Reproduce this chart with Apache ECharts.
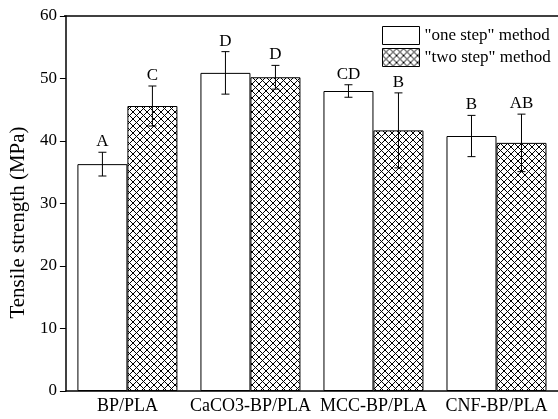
<!DOCTYPE html>
<html>
<head>
<meta charset="utf-8">
<script src="https://cdn.jsdelivr.net/npm/echarts@6/dist/echarts.min.js"></script>
<style>
  html, body { margin: 0; padding: 0; background: #fff; }
  #chart { width: 558px; height: 419px; }
</style>
</head>
<body>
<div id="chart"></div>
<script>
// data
var categories = ['BP/PLA', 'CaCO3-BP/PLA', 'MCC-BP/PLA', 'CNF-BP/PLA'];
var oneStep = [36.3, 50.9, 48.0, 40.8];
var oneStepErr = [1.9, 3.4, 1.0, 3.3];
var oneStepLetters = ['A', 'D', 'CD', 'B'];
var twoStep = [45.6, 50.2, 41.7, 39.7];
var twoStepErr = [3.2, 1.9, 6.0, 4.6];
var twoStepLetters = ['C', 'D', 'B', 'AB'];
var yTicks = [0, 10, 20, 30, 40, 50, 60];

var FONT = '"Liberation Serif", "DejaVu Serif", serif';

// crosshatch fill
function makeHatch(n) {
    var c = document.createElement('canvas');
    c.width = n; c.height = n;
    var ctx = c.getContext('2d');
    ctx.fillStyle = '#fff';
    ctx.fillRect(0, 0, n, n);
    ctx.strokeStyle = '#000';
    ctx.lineWidth = 1;
    ctx.beginPath();
    ctx.moveTo(0, 0); ctx.lineTo(n, n);
    ctx.moveTo(n, 0); ctx.lineTo(0, n);
    ctx.stroke();
    return c;
}
var hatchFill = { image: makeHatch(7), repeat: 'repeat' };

// error bars + letters, shifted half a bar from the category center
function errRenderer(vals, errs, letters, shift) {
    return function (params, api) {
        var i = params.dataIndex;
        var hi = api.coord([i, vals[i] + errs[i]]);
        var lo = api.coord([i, vals[i] - errs[i]]);
        var x = hi[0] + shift;
        return {
            type: 'group',
            children: [
                { type: 'line', shape: { x1: x, y1: hi[1], x2: x, y2: lo[1] }, style: { stroke: '#000', lineWidth: 1 } },
                { type: 'line', shape: { x1: x - 4, y1: hi[1], x2: x + 4, y2: hi[1] }, style: { stroke: '#000', lineWidth: 1 } },
                { type: 'line', shape: { x1: x - 4, y1: lo[1], x2: x + 4, y2: lo[1] }, style: { stroke: '#000', lineWidth: 1 } },
                { type: 'text', x: x, y: hi[1] - 2, style: { text: letters[i], fill: '#000', font: '17px ' + FONT, textAlign: 'center', textVerticalAlign: 'bottom' } }
            ]
        };
    };
}

var myChart = echarts.init(document.getElementById('chart'));
myChart.setOption({
    animation: false,
    grid: { left: 64, width: 502, top: 16, height: 375, containLabel: false },
    legend: {
        orient: 'vertical',
        left: 382, top: 26,
        padding: 0,
        icon: 'rect',
        itemWidth: 37, itemHeight: 18, itemGap: 3,
        textStyle: { fontFamily: FONT, fontSize: 17, color: '#000' },
        data: [
            { name: '"one step" method', itemStyle: { color: '#fff', borderColor: '#000', borderWidth: 1 } },
            { name: '"two step" method', itemStyle: { color: hatchFill, borderColor: '#000', borderWidth: 1 } }
        ]
    },
    xAxis: {
        type: 'category',
        data: categories,
        axisLine: { lineStyle: { color: '#000', width: 1.5 } },
        axisTick: { alignWithLabel: true, length: 5, lineStyle: { color: '#000' } },
        axisLabel: { interval: 0, color: '#000', fontFamily: FONT, fontSize: 18, margin: 6 }
    },
    yAxis: [{
        type: 'value',
        min: 0, max: 60, interval: 10,
        name: 'Tensile strength (MPa)',
        nameLocation: 'middle',
        nameGap: 24,
        nameTextStyle: { fontFamily: FONT, fontSize: 21, color: '#000', padding: [0, 38, 0, 0] },
        axisLine: { show: true, lineStyle: { color: '#000', width: 1.5 } },
        axisTick: { show: true, length: 6, lineStyle: { color: '#000' } },
        axisLabel: { color: '#000', fontFamily: FONT, fontSize: 17, margin: 9,
            formatter: function (v) { return yTicks.indexOf(v) >= 0 ? String(v) : ''; } },
        splitLine: { show: false }
    }],
    graphic: [{
        type: 'line', shape: { x1: 64, y1: 16, x2: 558, y2: 16 },
        style: { stroke: '#000', lineWidth: 1.5 }, z: 10
    }],
    series: [
        {
            name: '"one step" method', type: 'bar', data: oneStep,
            barWidth: 50, barGap: '0%',
            itemStyle: { color: '#fff', borderColor: '#000', borderWidth: 1 }
        },
        {
            name: '"two step" method', type: 'bar', data: twoStep,
            barWidth: 50, barGap: '0%',
            itemStyle: { color: hatchFill, borderColor: '#000', borderWidth: 1 }
        },
        { type: 'custom', renderItem: errRenderer(oneStep, oneStepErr, oneStepLetters, -25), data: oneStep, z: 5 },
        { type: 'custom', renderItem: errRenderer(twoStep, twoStepErr, twoStepLetters, 25), data: twoStep, z: 5 }
    ]
});
</script>
</body>
</html>
